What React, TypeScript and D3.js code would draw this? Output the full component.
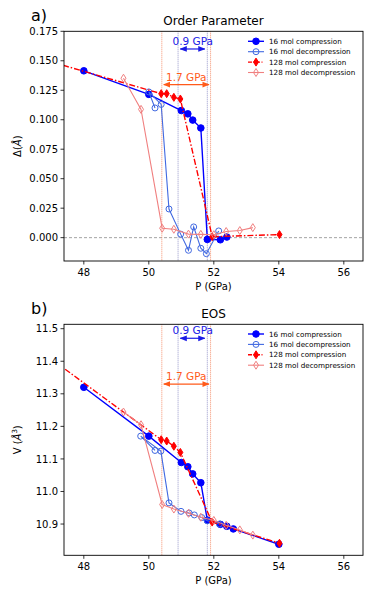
import React from 'react'
import * as d3 from 'd3'

const W = 374
const H = 598
const FONT = 'DejaVu Sans, sans-serif'

// ---- panel a) order parameter ----
const p16cA = [48.0, 50.0, 51.0, 51.2, 51.35, 51.6, 51.8, 52.2, 52.4]
const op16c = [0.1415, 0.1215, 0.1078, 0.105, 0.0997, 0.093, -0.0015, -0.0018, 0.0005]
const p16dA = [52.15, 51.77, 51.6, 51.38, 51.22, 50.98, 50.62, 50.38, 50.0, 50.19]
const op16d = [0.0057, -0.0136, -0.009, 0.0091, -0.0107, 0.003, 0.0243, 0.113, 0.1236, 0.11]
const p128c = [46.0, 50.38, 50.55, 50.77, 50.97, 51.95, 54.02]
const op128c = [0.157, 0.1221, 0.1221, 0.119, 0.1176, 0.0008, 0.0026]
const p128d = [53.2, 52.8, 52.38, 52.0, 51.6, 51.22, 50.77, 50.41, 49.76, 49.22]
const op128d = [0.0085, 0.006, 0.0052, 0.0025, 0.0028, 0.003, 0.0071, 0.008, 0.1088, 0.1352]

// ---- panel b) EOS ----
const p16cB = [48.0, 50.0, 51.0, 51.2, 51.35, 51.6, 51.8, 52.2, 52.4, 52.6, 54.0]
const v16c = [11.32, 11.17, 11.089, 11.076, 11.054, 11.027, 10.912, 10.899, 10.893, 10.885, 10.838]
const p16dB = [52.17, 51.8, 51.63, 51.4, 51.24, 50.99, 50.62, 50.37, 49.75, 50.19]
const v16d = [10.9, 10.91, 10.92, 10.928, 10.934, 10.939, 10.965, 11.124, 11.17, 11.126]
const v128c = [11.48, 11.159, 11.155, 11.139, 11.12, 10.906, 10.841]
const v128d = [10.866, 10.882, 10.896, 10.911, 10.921, 10.933, 10.946, 10.96, 11.205, 11.244]

const xTicks = [48, 50, 52, 54, 56]
const opTicks = [0, 0.025, 0.05, 0.075, 0.1, 0.125, 0.15, 0.175]
const vTicks = [10.9, 11.0, 11.1, 11.2, 11.3, 11.4, 11.5]

const legendLabels = ['16 mol compression', '16 mol decompression', '128 mol compression', '128 mol decompression']

// transition window markers
const orangeLines = [50.4, 51.9]
const blueLines = [50.9, 51.8]

const BLUE = '#0000ff'
const ROYAL = '#4169e1'
const RED = '#ff0000'
const CORAL = '#f08080'
const ORANGE = '#ff5a1a'
const ARROWBLUE = '#1a1ae6'

type Style = { color: string, marker: 'circle' | 'diamond', filled: boolean, lw: number, dash?: string }
const styles: Style[] = [
    { color: BLUE, marker: 'circle', filled: true, lw: 1.4 },
    { color: ROYAL, marker: 'circle', filled: false, lw: 1.1 },
    { color: RED, marker: 'diamond', filled: true, lw: 1.4, dash: '6,2,1.5,2' },
    { color: CORAL, marker: 'diamond', filled: false, lw: 1.1 },
]

const Marker = ({ x, y, s }: { x: number, y: number, s: Style }) => {
    if (s.marker === 'circle') {
        return <circle cx={x} cy={y} r={s.filled ? 3.3 : 3} fill={s.filled ? s.color : 'none'} stroke={s.color} strokeWidth={1} />
    }
    const d = `M${x},${y - 4} L${x + 2.5},${y} L${x},${y + 4} L${x - 2.5},${y} Z`
    return <path d={d} fill={s.filled ? s.color : 'none'} stroke={s.color} strokeWidth={1} />
}

type PanelProps = {
    top: number, bottom: number, yDomain: [number, number], yTicks: number[], fmt: string,
    series: [number[], number[]][], title: string, tag: string, ylabel: React.ReactNode,
    zeroLine?: boolean, blueArrow: number, orangeArrow: number, legendTop: number, id: string
}

const Panel = (props: PanelProps) => {
    const left = 64, right = 363
    const x = d3.scaleLinear().domain([47.39, 56.59]).range([left, right])
    const y = d3.scaleLinear().domain(props.yDomain).range([props.bottom, props.top])
    const f = d3.format(props.fmt)
    const line = d3.line<[number, number]>().x(d => x(d[0])).y(d => y(d[1]))

    const ba = y(props.blueArrow)
    const oa = y(props.orangeArrow)

    return (
        <g fontFamily={FONT}>
            <defs>
                <clipPath id={props.id}>
                    <rect x={left} y={props.top} width={right - left} height={props.bottom - props.top} />
                </clipPath>
                <marker id={props.id + 'bh'} viewBox="0 0 10 10" refX="9" refY="5" markerWidth="6" markerHeight="6" orient="auto-start-reverse">
                    <path d="M0,1 L10,5 L0,9 Z" fill={ARROWBLUE} />
                </marker>
                <marker id={props.id + 'oh'} viewBox="0 0 10 10" refX="9" refY="5" markerWidth="6" markerHeight="6" orient="auto-start-reverse">
                    <path d="M0,1 L10,5 L0,9 Z" fill={ORANGE} />
                </marker>
            </defs>

            <text x={31} y={props.top - 10} fontSize={16}>{props.tag}</text>
            <text x={(left + right) / 2} y={props.top - 6} fontSize={12} textAnchor="middle">{props.title}</text>

            <g clipPath={`url(#${props.id})`}>
                {props.zeroLine && (
                    <line x1={left} x2={right} y1={y(0)} y2={y(0)} stroke="#9a9a9a" strokeWidth={0.9} strokeDasharray="3,2" />
                )}
                {orangeLines.map(p => (
                    <line key={'o' + p} x1={x(p)} x2={x(p)} y1={props.top} y2={props.bottom} stroke="#f4845f" strokeWidth={0.9} strokeDasharray="1,1" />
                ))}
                {blueLines.map(p => (
                    <line key={'b' + p} x1={x(p)} x2={x(p)} y1={props.top} y2={props.bottom} stroke="#7070b8" strokeWidth={0.9} strokeDasharray="1,1" opacity={0.8} />
                ))}
                {props.series.map(([px, py], i) => {
                    const pts = px.map((p, j) => [p, py[j]] as [number, number])
                    const s = styles[i]
                    return (
                        <g key={i}>
                            <path d={line(pts) || ''} fill="none" stroke={s.color} strokeWidth={s.lw} strokeDasharray={s.dash} />
                            {pts.map((d, j) => <Marker key={j} x={x(d[0])} y={y(d[1])} s={s} />)}
                        </g>
                    )
                })}
            </g>

            {/* transition width annotations */}
            <line x1={x(50.97)} x2={x(51.72)} y1={ba} y2={ba} stroke={ARROWBLUE} strokeWidth={1.2}
                markerStart={`url(#${props.id}bh)`} markerEnd={`url(#${props.id}bh)`} />
            <text x={x(51.35)} y={ba - 4} fontSize={10.5} fill={ARROWBLUE} textAnchor="middle">0.9 GPa</text>
            <line x1={x(50.46)} x2={x(51.85)} y1={oa} y2={oa} stroke={ORANGE} strokeWidth={1.2}
                markerStart={`url(#${props.id}oh)`} markerEnd={`url(#${props.id}oh)`} />
            <text x={x(51.15)} y={oa - 4} fontSize={10.5} fill={ORANGE} textAnchor="middle">1.7 GPa</text>

            {/* legend */}
            {legendLabels.map((lab, i) => {
                const ly = props.legendTop + i * 10.4
                const s = styles[i]
                return (
                    <g key={lab}>
                        <line x1={248} x2={264} y1={ly} y2={ly} stroke={s.color} strokeWidth={s.lw} strokeDasharray={s.dash ? '4,1.5,1,1.5' : undefined} />
                        <Marker x={256} y={ly} s={s} />
                        <text x={269} y={ly + 2.6} fontSize={7.2}>{lab}</text>
                    </g>
                )
            })}

            {/* frame */}
            <rect x={left} y={props.top} width={right - left} height={props.bottom - props.top} fill="none" stroke="#000" strokeWidth={0.9} />

            {/* x axis */}
            {xTicks.map(t => (
                <g key={t}>
                    <line x1={x(t)} x2={x(t)} y1={props.bottom} y2={props.bottom + 3.5} stroke="#000" strokeWidth={0.8} />
                    <text x={x(t)} y={props.bottom + 15} fontSize={10} textAnchor="middle">{t}</text>
                </g>
            ))}
            <text x={(left + right) / 2} y={props.bottom + 29} fontSize={10} textAnchor="middle">P (GPa)</text>

            {/* y axis */}
            {props.yTicks.map(t => (
                <g key={t}>
                    <line x1={left - 3.5} x2={left} y1={y(t)} y2={y(t)} stroke="#000" strokeWidth={0.8} />
                    <text x={left - 6} y={y(t) + 3.6} fontSize={10} textAnchor="end">{f(t)}</text>
                </g>
            ))}
            <text transform={`translate(21,${(props.top + props.bottom) / 2}) rotate(-90)`} fontSize={10} textAnchor="middle">{props.ylabel}</text>
        </g>
    )
}

export default function App() {
    return (
        <svg width={W} height={H} style={{ position: 'absolute', left: 0, top: 0, background: '#fff' }}>
            <Panel
                id="pa" top={31.3} bottom={261} yDomain={[-0.0198, 0.175]} yTicks={opTicks} fmt=".3f"
                series={[[p16cA, op16c], [p16dA, op16d], [p128c, op128c], [p128d, op128d]]}
                title="Order Parameter" tag="a)" ylabel={<>Δ(<tspan fontStyle="italic">Å</tspan>)</>}
                zeroLine blueArrow={0.16} orangeArrow={0.1298} legendTop={41.3}
            />
            <Panel
                id="pb" top={324.3} bottom={555.3} yDomain={[10.804, 11.5135]} yTicks={vTicks} fmt=".1f"
                series={[[p16cB, v16c], [p16dB, v16d], [p128c, v128c], [p128d, v128d]]}
                title="EOS" tag="b)" ylabel={<>V (<tspan fontStyle="italic">Å</tspan><tspan dy={-4} fontSize={7}>3</tspan><tspan dy={4}>)</tspan></>}
                blueArrow={11.4706} orangeArrow={11.33} legendTop={334}
            />
        </svg>
    )
}
